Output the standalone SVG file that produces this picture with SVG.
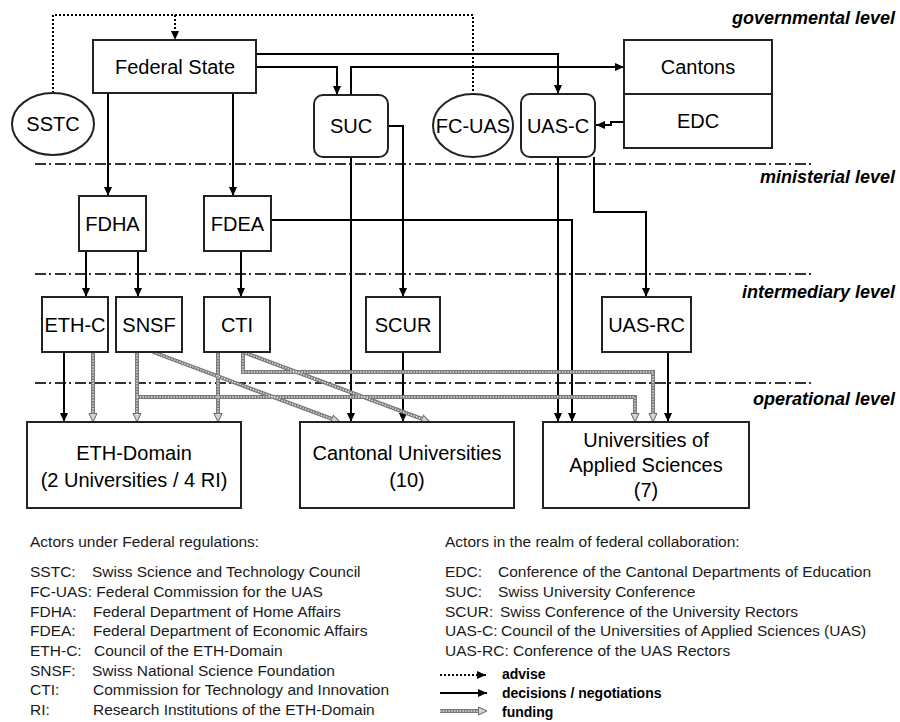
<svg xmlns="http://www.w3.org/2000/svg" width="900" height="722" viewBox="0 0 900 722">
<style>
text{font-family:"Liberation Sans",Arial,sans-serif;fill:#000}
.n{font-size:20px;text-anchor:middle}
.box{fill:#fff;stroke:#222;stroke-width:2}
.lvl{font-size:18px;font-weight:bold;font-style:italic;text-anchor:end}
.sep{fill:none;stroke:#333;stroke-width:2;stroke-dasharray:11 3 2 4}
.adv{fill:none;stroke:#000;stroke-width:2;stroke-dasharray:2 2}
.dec{fill:none;stroke:#000;stroke-width:2}
.fund{fill:none;stroke:#7a7a7a;stroke-width:4}
.fundi{fill:none;stroke:#e6e6e6;stroke-width:1.4;stroke-dasharray:1.4 1.4}
.lg{font-size:15.5px;fill:#1a1a1a}
.lb{font-size:14px;font-weight:bold}
</style>
<defs>
<marker id="a" markerUnits="userSpaceOnUse" markerWidth="10" markerHeight="10" refX="9" refY="5" orient="auto"><path d="M0,1 L9,5 L0,9 z" fill="#000"/></marker>
<marker id="f" markerUnits="userSpaceOnUse" markerWidth="10" markerHeight="10" refX="4" refY="5" orient="auto"><path d="M0.5,1 L9,5 L0.5,9 z" fill="#d0d0d0" stroke="#666" stroke-width="1"/></marker>
</defs>

<g id="levels">
<path class="sep" d="M35,164 H812"/>
<path class="sep" d="M35,274 H812"/>
<path class="sep" d="M35,383 H814"/>
<text class="lvl" x="895" y="24">governmental level</text>
<text class="lvl" x="895" y="183">ministerial level</text>
<text class="lvl" x="895" y="298">intermediary level</text>
<text class="lvl" x="895" y="405">operational level</text>
</g>

<g id="connectors">
<path class="adv" d="M53,93 V15 H473 V94"/>
<path class="adv" d="M175,15 V40" marker-end="url(#a)"/>

<path class="dec" d="M108,93 V196" marker-end="url(#a)"/>
<path class="dec" d="M233,93 V196" marker-end="url(#a)"/>
<path class="dec" d="M256,67 H337 V95" marker-end="url(#a)"/>
<path class="dec" d="M256,54 H558 V94" marker-end="url(#a)"/>
<path class="dec" d="M351,95 V67 H624" marker-end="url(#a)"/>
<path class="dec" d="M624,122 H611 V125 H596" marker-end="url(#a)"/>
<path class="dec" d="M388,126 H403 V297" marker-end="url(#a)"/>
<path class="dec" d="M351,157 V422" marker-end="url(#a)"/>
<path class="dec" d="M558,157 V422" marker-end="url(#a)"/>
<path class="dec" d="M594,157 V212 H646 V297" marker-end="url(#a)"/>
<path class="dec" d="M271,220 H572 V422" marker-end="url(#a)"/>
<path class="dec" d="M86,251 V297" marker-end="url(#a)"/>
<path class="dec" d="M138,251 V297" marker-end="url(#a)"/>
<path class="dec" d="M241,251 V297" marker-end="url(#a)"/>
<path class="dec" d="M64,352 V422" marker-end="url(#a)"/>
<path class="dec" d="M403,352 V422" marker-end="url(#a)"/>
<path class="dec" d="M668,352 V422" marker-end="url(#a)"/>

<path class="fund" d="M93,352 V417" marker-end="url(#f)"/>
<path class="fund" d="M137,352 V417" marker-end="url(#f)"/>
<path class="fund" d="M137,397 H635 V417" marker-end="url(#f)"/>
<path class="fund" d="M153,352 L335.3,420.2" marker-end="url(#f)"/>
<path class="fund" d="M218,352 V417" marker-end="url(#f)"/>
<path class="fund" d="M243,352 L425.3,420.2" marker-end="url(#f)"/>
<path class="fund" d="M243,352 V372 H653 V417" marker-end="url(#f)"/>
<path class="fundi" d="M93,352 V417"/>
<path class="fundi" d="M137,352 V417"/>
<path class="fundi" d="M137,397 H635 V417"/>
<path class="fundi" d="M153,352 L335.3,420.2"/>
<path class="fundi" d="M218,352 V417"/>
<path class="fundi" d="M243,352 L425.3,420.2"/>
<path class="fundi" d="M243,352 V372 H653 V417"/>
</g>

<g id="federal-state"><rect class="box" x="93" y="40" width="163" height="53"/><text class="n" x="175" y="74">Federal State</text></g>
<g id="sstc"><ellipse class="box" cx="53" cy="124" rx="41" ry="31"/><text class="n" x="53" y="131">SSTC</text></g>
<g id="suc"><rect class="box" x="314" y="95" width="74" height="62" rx="9"/><text class="n" x="351" y="133">SUC</text></g>
<g id="fc-uas"><ellipse class="box" cx="473" cy="125.5" rx="40" ry="31.5"/><text class="n" x="473" y="132.5">FC-UAS</text></g>
<g id="uas-c"><rect class="box" x="521" y="94" width="74" height="63" rx="9"/><text class="n" x="558" y="133">UAS-C</text></g>
<g id="cantons"><rect class="box" x="624" y="40" width="148" height="54"/><text class="n" x="698" y="74">Cantons</text></g>
<g id="edc"><rect class="box" x="624" y="94" width="148" height="54"/><text class="n" x="698" y="128">EDC</text></g>
<g id="fdha"><rect class="box" x="79" y="196" width="67" height="55"/><text class="n" x="112.5" y="230.5">FDHA</text></g>
<g id="fdea"><rect class="box" x="204" y="196" width="67" height="55"/><text class="n" x="237.5" y="230.5">FDEA</text></g>
<g id="eth-c"><rect class="box" x="42" y="297" width="66" height="55"/><text class="n" x="75" y="331.5">ETH-C</text></g>
<g id="snsf"><rect class="box" x="116" y="297" width="66" height="55"/><text class="n" x="149" y="331.5">SNSF</text></g>
<g id="cti"><rect class="box" x="204" y="297" width="66" height="55"/><text class="n" x="237" y="331.5">CTI</text></g>
<g id="scur"><rect class="box" x="366" y="297" width="74" height="55"/><text class="n" x="403" y="331.5">SCUR</text></g>
<g id="uas-rc"><rect class="box" x="602" y="297" width="89" height="55"/><text class="n" x="646.5" y="331.5">UAS-RC</text></g>
<g id="eth-domain"><rect class="box" x="27" y="422" width="214" height="86"/><text class="n" x="134" y="460">ETH-Domain</text><text class="n" x="134" y="487">(2 Universities / 4 RI)</text></g>
<g id="cantonal-universities"><rect class="box" x="300" y="422" width="214" height="86"/><text class="n" x="407" y="460">Cantonal Universities</text><text class="n" x="407" y="487">(10)</text></g>
<g id="uas"><rect class="box" x="543" y="422" width="206" height="86"/><text class="n" x="646" y="447">Universities of</text><text class="n" x="646" y="472">Applied Sciences</text><text class="n" x="646" y="497">(7)</text></g>

<g id="legend">
<text class="lg" x="30" y="547">Actors under Federal regulations:</text>
<text class="lg" x="30" y="577">SSTC:</text><text class="lg" x="92" y="577">Swiss Science and Technology Council</text>
<text class="lg" x="30" y="597">FC-UAS: Federal Commission for the UAS</text>
<text class="lg" x="30" y="617">FDHA:</text><text class="lg" x="93" y="617">Federal Department of Home Affairs</text>
<text class="lg" x="30" y="636">FDEA:</text><text class="lg" x="93" y="636">Federal Department of Economic Affairs</text>
<text class="lg" x="30" y="656">ETH-C:</text><text class="lg" x="94" y="656">Council of the ETH-Domain</text>
<text class="lg" x="30" y="676">SNSF:</text><text class="lg" x="92" y="676">Swiss National Science Foundation</text>
<text class="lg" x="30" y="695">CTI:</text><text class="lg" x="93" y="695">Commission for Technology and Innovation</text>
<text class="lg" x="30" y="715">RI:</text><text class="lg" x="93" y="715">Research Institutions of the ETH-Domain</text>

<text class="lg" x="445" y="547">Actors in the realm of federal collaboration:</text>
<text class="lg" x="445" y="577">EDC:</text><text class="lg" x="498" y="577">Conference of the Cantonal Departments of Education</text>
<text class="lg" x="445" y="597">SUC:</text><text class="lg" x="498" y="597">Swiss University Conference</text>
<text class="lg" x="445" y="617">SCUR:</text><text class="lg" x="500" y="617">Swiss Conference of the University Rectors</text>
<text class="lg" x="445" y="636">UAS-C:</text><text class="lg" x="501" y="636">Council of the Universities of Applied Sciences (UAS)</text>
<text class="lg" x="445" y="656">UAS-RC: Conference of the UAS Rectors</text>

<path class="adv" d="M440,675 H486" marker-end="url(#a)"/>
<path class="dec" d="M440,693 H487" marker-end="url(#a)"/>
<path class="fund" d="M440,711 H482" marker-end="url(#f)"/>
<path class="fundi" d="M440,711 H482"/>
<text class="lb" x="502" y="679">advise</text>
<text class="lb" x="502" y="698">decisions / negotiations</text>
<text class="lb" x="502" y="717">funding</text>
</g>
</svg>
